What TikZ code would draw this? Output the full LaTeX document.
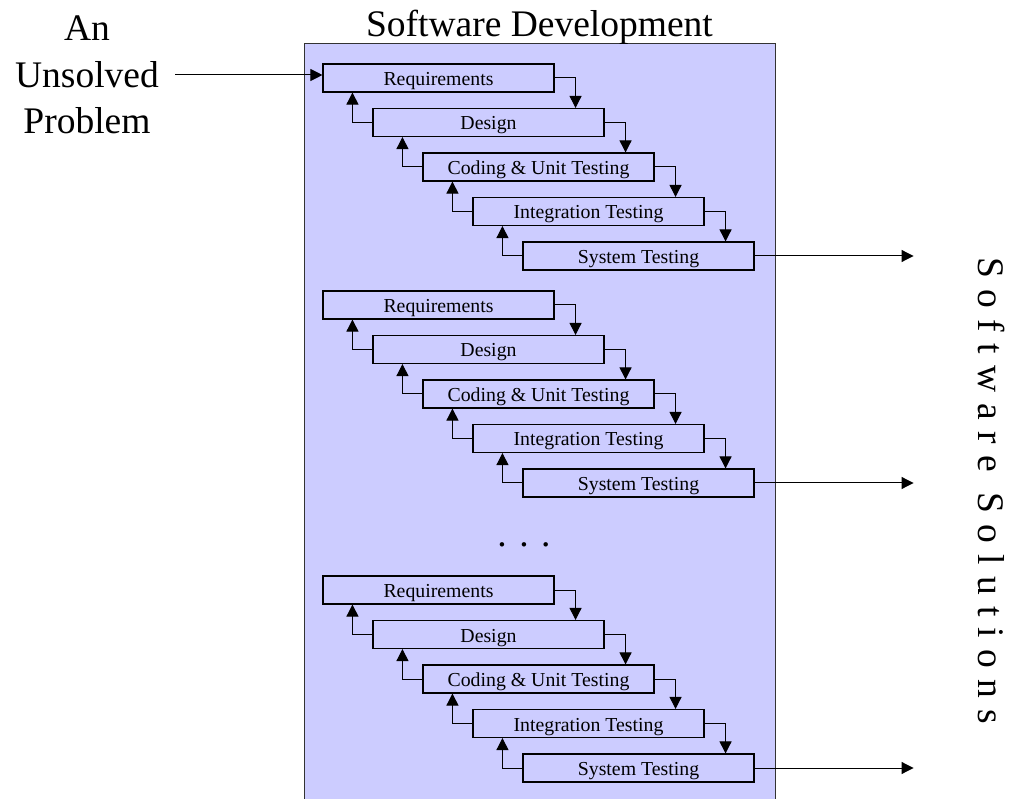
\documentclass[tikz,border=0pt]{standalone}
\usepackage{fontspec}
\setmainfont{Liberation Serif}
\usepackage{tikz}
\usetikzlibrary{arrows.meta, positioning, calc}

\definecolor{lav}{RGB}{204,204,255}

\tikzset{
  phase/.style={draw, fill=lav, line width=1.1pt, minimum width=231pt, minimum height=28pt,
    inner sep=0pt, text height=15pt, text depth=0pt, font=\fontsize{19.8}{23}\selectfont},
  flow/.style={line width=1pt, -{Triangle[length=12pt,width=12pt]}},
  big/.style={font=\fontsize{37.5}{46.5}\selectfont},
}

\begin{document}
\begin{tikzpicture}[x=1pt, y=-1pt]
    \useasboundingbox (0,0) rectangle (1010,799);
    % the development panel
    \draw[fill=lav, draw=black!80, line width=1pt] (304,44) rectangle (775,812);
    \node[big, anchor=base](title) at (539.5,37) {Software Development};

    \foreach \g/\oy in {1/0, 2/227, 3/512}{
        \node[phase](a\g) at (438.5,78+\oy) {Requirements};
        \node[phase](b\g) at (488.5,122.5+\oy) {Design};
        \node[phase](c\g) at (538.5,167+\oy) {Coding \& Unit Testing};
        \node[phase](d\g) at (588.5,211.5+\oy) {Integration Testing};
        \node[phase](e\g) at (638.5,256+\oy) {System Testing};

        % down the waterfall
        \draw[flow] (a\g.east) -| ([xshift=-29pt]b\g.north east);
        \draw[flow] (b\g.east) -| ([xshift=-29pt]c\g.north east);
        \draw[flow] (c\g.east) -| ([xshift=-29pt]d\g.north east);
        \draw[flow] (d\g.east) -| ([xshift=-29pt]e\g.north east);
        % and back up
        \draw[flow] (b\g.west) -| ([xshift=30pt]a\g.south west);
        \draw[flow] (c\g.west) -| ([xshift=30pt]b\g.south west);
        \draw[flow] (d\g.west) -| ([xshift=30pt]c\g.south west);
        \draw[flow] (e\g.west) -| ([xshift=30pt]d\g.south west);

        \coordinate (o\g) at ([xshift=159pt]e\g.east);
        \draw[flow] (e\g.east) -- (o\g);
    }

    \node[big, anchor=base](dots) at (524,547) {. . .};

    \node[big, align=center, inner xsep=16pt, inner ysep=0pt](problem) at (87,75) {An\\Unsolved\\Problem};
    \draw[flow] (problem.east) -- (problem.east -| a1.west);

    \node[big, rotate=-90, inner sep=0pt, font=\fontsize{37.5}{46.5}\selectfont\addfontfeature{LetterSpace=30}](solutions) at (992,491) {Software Solutions};
\end{tikzpicture}
\end{document}
